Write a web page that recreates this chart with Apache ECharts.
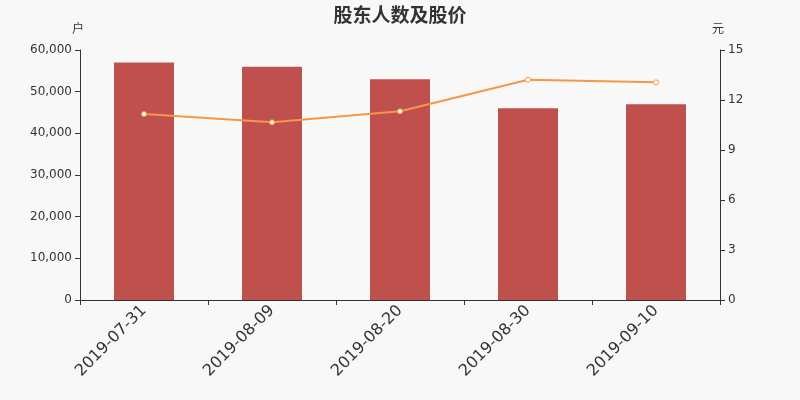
<!DOCTYPE html>
<html>
<head>
  <meta charset="UTF-8">
  <title>股东人数及股价</title>
  <script src="https://cdn.jsdelivr.net/npm/echarts@6/dist/echarts.min.js"></script>
  <style>
    body { margin: 0; background: #f8f8f8; }
    #chart { width: 800px; height: 400px; }
  </style>
</head>
<body>
<div id="chart"></div>
<script>
  // 数据
  var dates = ['2019-07-31', '2019-08-09', '2019-08-20', '2019-08-30', '2019-09-10'];
  var holders = [57000, 56000, 53000, 46000, 47000];
  var prices = [11.16, 10.66, 11.32, 13.22, 13.06];

  var myChart = echarts.init(document.getElementById('chart'));
  var axisText = { color: '#333', fontSize: 12, fontFamily: 'DejaVu Sans' };

  var option = {
    backgroundColor: '#f8f8f8',
    textStyle: { fontFamily: 'DejaVu Sans, Noto Sans CJK SC, sans-serif' },
    title: {
      text: '股东人数及股价',
      left: 'center',
      top: 0,
      textStyle: { fontSize: 19, fontWeight: 'bold', color: '#333', fontFamily: 'Noto Sans CJK SC' }
    },
    grid: { left: 80, right: 80, top: 50, bottom: 100 },
    xAxis: {
      type: 'category',
      data: dates,
      axisLine: { lineStyle: { color: '#333' } },
      axisTick: { show: true },
      axisLabel: { rotate: 45, fontSize: 16, color: '#333', interval: 0, fontFamily: 'DejaVu Sans' }
    },
    yAxis: [
      {
        type: 'value',
        name: '户',
        min: 0, max: 60000, interval: 10000,
        nameGap: 16,
        nameTextStyle: { color: '#333', align: 'center', padding: [0, 4, 0, 0], fontFamily: 'Noto Sans CJK SC' },
        axisLine: { show: true, lineStyle: { color: '#333' } },
        axisTick: { show: true },
        splitLine: { show: false },
        axisLabel: axisText
      },
      {
        type: 'value',
        name: '元',
        min: 0, max: 15, interval: 3,
        nameGap: 16,
        nameTextStyle: { color: '#333', align: 'center', padding: [0, 4, 0, 0], fontFamily: 'Noto Sans CJK SC' },
        axisLine: { show: true, lineStyle: { color: '#333' } },
        axisTick: { show: true },
        splitLine: { show: false },
        axisLabel: axisText
      }
    ],
    series: [
      {
        name: '股东人数',
        type: 'bar',
        data: holders,
        barWidth: 60,
        itemStyle: { color: '#c0504d' }
      },
      {
        name: '股价',
        type: 'line',
        yAxisIndex: 1,
        data: prices,
        symbol: 'circle',
        symbolSize: 5,
        lineStyle: { color: '#f79646', width: 2 },
        itemStyle: { color: '#fff', borderColor: '#f79646', borderWidth: 1 }
      }
    ]
  };

  myChart.setOption(option);
</script>
</body>
</html>
